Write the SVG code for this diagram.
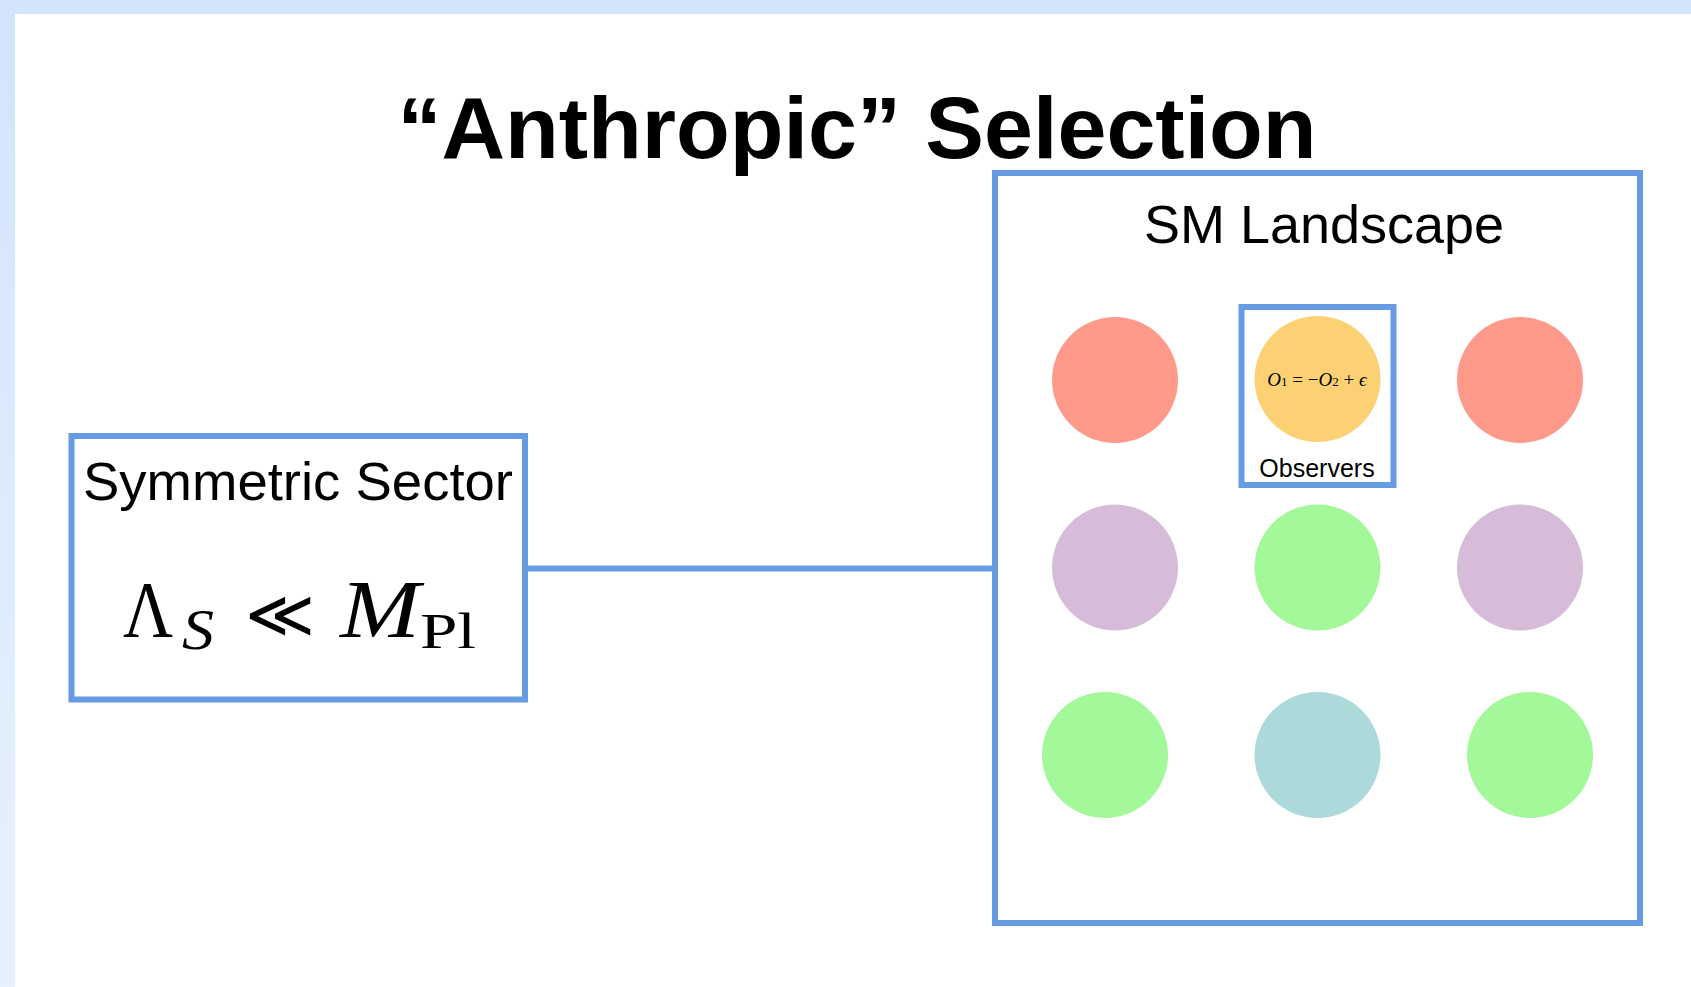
<svg xmlns="http://www.w3.org/2000/svg" width="1691" height="987" viewBox="0 0 1691 987">
<defs>
<linearGradient id="bg" x1="0" y1="0" x2="0" y2="1">
<stop offset="0" stop-color="#d2e5fd"/>
<stop offset="1" stop-color="#e6f1fe"/>
</linearGradient>
<style>
.box{fill:#ffffff;stroke:#679be4;stroke-width:6}
.sans{font-family:"Liberation Sans",Arial,Helvetica,sans-serif;fill:#000}
.serif{font-family:"Liberation Serif","DejaVu Serif","Times New Roman",serif;fill:#000}
.conn{stroke:#679be4;stroke-width:6;fill:none}
</style>
</defs>
<rect x="0" y="0" width="1691" height="987" fill="url(#bg)"/>
<rect x="0" y="0" width="1691" height="14" fill="#d2e5fd"/>
<rect x="15" y="14" width="1676" height="973" fill="#ffffff"/>
<text class="sans" x="857" y="158" font-size="88" font-weight="bold" text-anchor="middle">“Anthropic” Selection</text>
<g id="connectors">
<line class="conn" x1="526" y1="568.5" x2="994" y2="568.5"/>
</g>
<g id="symmetric-sector">
<rect class="box" x="71.5" y="436" width="453.5" height="263.5"/>
<text class="sans" x="298" y="500" font-size="54.5" text-anchor="middle">Symmetric Sector</text>
<text class="serif" y="637"><tspan x="123" font-size="80" textLength="50" lengthAdjust="spacingAndGlyphs">Λ</tspan><tspan x="182" y="649" font-size="58" font-style="italic" textLength="32" lengthAdjust="spacingAndGlyphs">S</tspan><tspan x="245" y="637" font-size="66" textLength="70" lengthAdjust="spacingAndGlyphs">≪</tspan><tspan x="340" y="637" font-size="82" font-style="italic" textLength="80" lengthAdjust="spacingAndGlyphs">M</tspan><tspan x="420" y="648" font-size="50" textLength="56" lengthAdjust="spacingAndGlyphs">Pl</tspan></text>
</g>
<g id="sm-landscape">
<rect class="box" x="995" y="173" width="645" height="750"/>
<text class="sans" x="1324" y="243" font-size="54" text-anchor="middle">SM Landscape</text>
</g>
<g id="circle-r1c1"><circle cx="1115" cy="380" r="63" fill="#ff9a8a"/></g>
<g id="observers">
<rect class="box" x="1241.5" y="307" width="152" height="178"/>
<circle cx="1317.5" cy="379" r="63" fill="#fcd174"/>
<text class="serif" x="1317" y="386" font-size="19" text-anchor="middle"><tspan font-style="italic">O</tspan><tspan font-size="13">1</tspan> = −<tspan font-style="italic">O</tspan><tspan font-size="13">2</tspan> + <tspan font-style="italic">ϵ</tspan></text>
<text class="sans" x="1317" y="477" font-size="25" text-anchor="middle">Observers</text>
</g>
<g id="circle-r1c3"><circle cx="1520" cy="380" r="63" fill="#ff9a8a"/></g>
<g id="circle-r2c1"><circle cx="1115" cy="567.5" r="63" fill="#d6bcd8"/></g>
<g id="circle-r2c2"><circle cx="1317.5" cy="567.5" r="63" fill="#a3f89a"/></g>
<g id="circle-r2c3"><circle cx="1520" cy="567.5" r="63" fill="#d6bcd8"/></g>
<g id="circle-r3c1"><circle cx="1105" cy="755" r="63" fill="#a3f89a"/></g>
<g id="circle-r3c2"><circle cx="1317.5" cy="755" r="63" fill="#acd9da"/></g>
<g id="circle-r3c3"><circle cx="1530" cy="755" r="63" fill="#a3f89a"/></g>
</svg>
